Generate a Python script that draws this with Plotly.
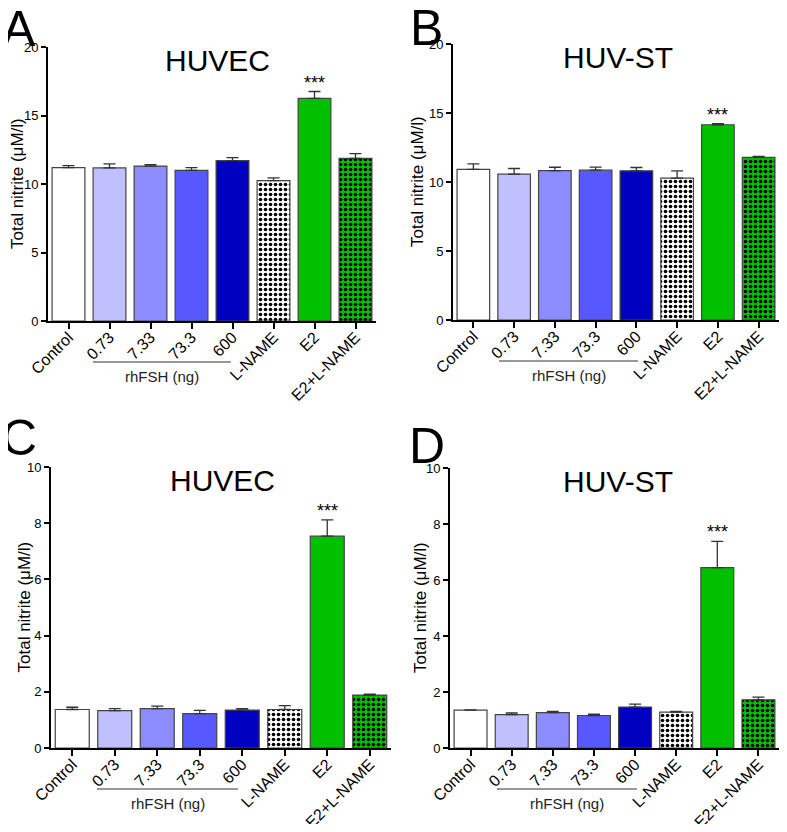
import plotly.graph_objects as go

# page body adds an 8px margin, so the figure is sized to fit inside the window
OFF = 8
W, H = 787 - 2 * OFF, 832 - 2 * OFF

categories = ["Control", "0.73", "7.33", "73.3", "600", "L-NAME", "E2", "E2+L-NAME"]

huvec_a = [11.2, 11.17, 11.31, 11.0, 11.7, 10.24, 16.25, 11.87]
huvec_a_err = [0.14, 0.3, 0.1, 0.19, 0.22, 0.2, 0.5, 0.34]

huvst_b = [10.91, 10.57, 10.83, 10.86, 10.81, 10.28, 14.15, 11.78]
huvst_b_err = [0.41, 0.41, 0.24, 0.22, 0.24, 0.53, 0.07, 0.07]

huvec_c = [1.37, 1.33, 1.40, 1.22, 1.35, 1.37, 7.54, 1.88]
huvec_c_err = [0.08, 0.07, 0.09, 0.12, 0.05, 0.14, 0.58, 0.04]

huvst_d = [1.35, 1.19, 1.26, 1.16, 1.46, 1.28, 6.44, 1.72]
huvst_d_err = [0.01, 0.06, 0.05, 0.05, 0.11, 0.03, 0.94, 0.10]

fills = ["#FFFFFF", "#C0C0FF", "#8C8CFF", "#5858FF", "#0000C0", "#FFFFFF", "#00C000", "#00C000"]
checkered = [False, False, False, False, False, True, False, True]

FONT = "Liberation Sans, Arial, sans-serif"


def px_x(s):
    return (s - OFF) / W


def px_y(s):
    return 1 - (s - OFF) / H


# letter, title, data, err, ymax, dtick, x px span, y px (zero, top), bracket px,
# letter px, ytitle x px, title centre x px
panels = [
    ("A", "HUVEC", huvec_a, huvec_a_err, 20, 5, (48, 376), (321, 47), (93, 231), (19, 29), 17, 218),
    ("B", "HUV-ST", huvst_b, huvst_b_err, 20, 5, (453, 781), (320, 44), (499, 638), (427, 28), 417, 618),
    ("C", "HUVEC", huvec_c, huvec_c_err, 10, 2, (51, 391), (748, 467), (97, 238), (19, 438), 24, 222),
    ("D", "HUV-ST", huvst_d, huvst_d_err, 10, 2, (450, 786), (748, 468), (497, 637), (427, 446), 420, 618),
]

fig = go.Figure()
annotations = []
shapes = []

for i, (letter, title, vals, errs, ymax, dt, xs, ys, line, lp, tx, tc) in enumerate(panels):
    n = "" if i == 0 else str(i + 1)
    # one trace per bar so each checkered fill gets its own black foreground
    for k, cat in enumerate(categories):
        pat = dict(shape=".", fgcolor="black", fgopacity=1, size=5,
                   solidity=0.42, fillmode="overlay") if checkered[k] else dict(shape="")
        fig.add_trace(go.Bar(
            x=[cat], y=[vals[k]], xaxis="x" + n, yaxis="y" + n,
            marker=dict(color=fills[k], line=dict(color="#444444", width=1.2),
                        pattern=pat),
            error_y=dict(type="data", symmetric=False, array=[errs[k]],
                         arrayminus=[0], color="#333333", thickness=1.3, width=6),
            width=0.8, showlegend=False,
        ))
    xd = [px_x(xs[0]), min(1.0, px_x(xs[1]))]
    yd = [px_y(ys[0]), px_y(ys[1])]
    fig.update_layout(**{
        "xaxis" + n: dict(
            domain=xd, anchor="y" + n, range=[-0.5, 7.5],
            categoryorder="array", categoryarray=categories,
            showline=True, linecolor="black", linewidth=1.8,
            ticks="outside", ticklen=6, tickwidth=1.5, tickcolor="black",
            tickangle=-45, tickfont=dict(size=16, color="black", family=FONT),
            ticklabelstandoff=-7,
            showgrid=False, zeroline=False, fixedrange=True,
        ),
        "yaxis" + n: dict(
            domain=yd, anchor="x" + n, range=[0, ymax], dtick=dt,
            showline=True, linecolor="black", linewidth=1.8,
            ticks="outside", ticklen=5, tickwidth=1.5, tickcolor="black",
            tickfont=dict(size=13, color="black", family=FONT),
            showgrid=False, zeroline=False,
        ),
    })
    # y axis title
    annotations.append(dict(
        text="Total nitrite (\u03bcM/l)", textangle=-90,
        x=px_x(tx), y=px_y((ys[0] + ys[1]) / 2),
        xref="paper", yref="paper", xanchor="center", yanchor="middle",
        showarrow=False, font=dict(size=17, color="black", family=FONT),
    ))
    # panel letter
    annotations.append(dict(
        text=letter, x=px_x(lp[0]), y=px_y(lp[1]),
        xref="paper", yref="paper", xanchor="center", yanchor="middle",
        showarrow=False, font=dict(size=50, color="black", family=FONT),
    ))
    # panel title
    annotations.append(dict(
        text=title, x=px_x(tc), y=px_y(ys[1] + 13),
        xref="paper", yref="paper", xanchor="center", yanchor="middle",
        showarrow=False, font=dict(size=30, color="black", family=FONT),
    ))
    # significance stars
    annotations.append(dict(
        text="***", x="E2", y=vals[6] + errs[6], xref="x" + n, yref="y" + n,
        xanchor="center", yanchor="bottom", yshift=-3,
        showarrow=False, font=dict(size=18, color="black", family=FONT),
    ))
    # rhFSH bracket
    ly = ys[0] + 41
    shapes.append(dict(type="line", xref="paper", yref="paper",
                       x0=px_x(line[0]), x1=px_x(line[1]), y0=px_y(ly), y1=px_y(ly),
                       line=dict(color="#333333", width=1.2)))
    annotations.append(dict(
        text="rhFSH (ng)", x=px_x((line[0] + line[1]) / 2), y=px_y(ly + 4),
        xref="paper", yref="paper", xanchor="center", yanchor="top",
        showarrow=False, font=dict(size=15, color="#222222", family=FONT),
    ))

fig.update_layout(
    width=W, height=H,
    margin=dict(l=0, r=0, t=0, b=0, autoexpand=False),
    paper_bgcolor="white", plot_bgcolor="white",
    font=dict(family=FONT, color="black"),
    annotations=annotations, shapes=shapes,
    barmode="overlay",
)

fig.write_html("out.html")
